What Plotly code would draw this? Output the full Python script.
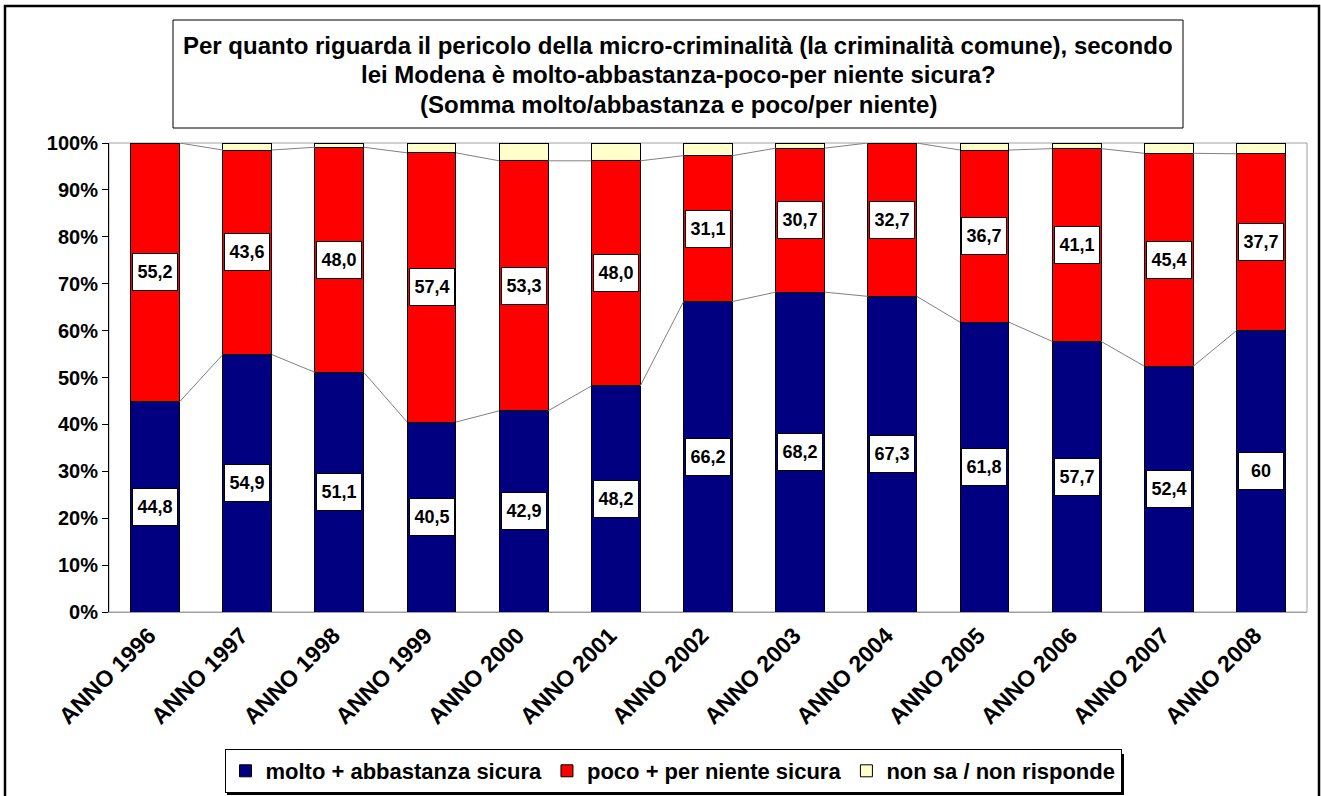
import plotly.graph_objects as go

categories = ["ANNO 1996", "ANNO 1997", "ANNO 1998", "ANNO 1999", "ANNO 2000", "ANNO 2001",
              "ANNO 2002", "ANNO 2003", "ANNO 2004", "ANNO 2005", "ANNO 2006", "ANNO 2007", "ANNO 2008"]
sicura = [44.8, 54.9, 51.1, 40.5, 42.9, 48.2, 66.2, 68.2, 67.3, 61.8, 57.7, 52.4, 60]
non_sicura = [55.2, 43.6, 48.0, 57.4, 53.3, 48.0, 31.1, 30.7, 32.7, 36.7, 41.1, 45.4, 37.7]
non_sa = [0.0, 1.5, 0.9, 2.1, 3.8, 3.8, 2.7, 1.1, 0.0, 1.5, 1.2, 2.2, 2.3]
series_names = ["molto + abbastanza sicura", "poco + per niente sicura", "non sa / non risponde"]
colors = ["#000080", "#FF0000", "#FFFFCC"]
title_lines = ["Per quanto riguarda il pericolo della micro-criminalità (la criminalità comune), secondo",
               "lei Modena è molto-abbastanza-poco-per niente sicura?",
               "(Somma molto/abbastanza e poco/per niente)"]

FONT = "Liberation Sans, Arial, sans-serif"
BW = 0.53
xs = list(range(len(categories)))

# plot area in screen pixels (page body margin removed by post_script)
L, R, T, B = 109, 1307, 143, 612
W, H = 1321, 796
pw, ph = R - L, B - T


def px_x(p):
    return (p - L) / pw


def px_y(p):
    return (B - p) / ph


fig = go.Figure()
for vals, name, col in zip([sicura, non_sicura, non_sa], series_names, colors):
    fig.add_trace(go.Bar(x=xs, y=vals, name=name, width=BW,
                         marker=dict(color=col, line=dict(color="black", width=1))))

# series lines between bars
cum1 = sicura
cum2 = [a + b for a, b in zip(sicura, non_sicura)]
for cum in (cum1, cum2):
    lx, ly = [], []
    for i in range(len(xs) - 1):
        lx += [xs[i] + BW / 2, xs[i + 1] - BW / 2, None]
        ly += [cum[i], cum[i + 1], None]
    fig.add_trace(go.Scatter(x=lx, y=ly, mode="lines", line=dict(color="#808080", width=1),
                             showlegend=False, hoverinfo="skip"))


def fmt(v):
    return str(v).replace(".", ",")


annotations = []
for i in xs:
    for y, v in ((sicura[i] / 2, sicura[i]), (sicura[i] + non_sicura[i] / 2, non_sicura[i])):
        annotations.append(dict(x=xs[i], y=y, xref="x", yref="y", text=fmt(v), showarrow=False,
                                font=dict(family=FONT, size=18, color="black", weight="bold"),
                                width=38, height=30, borderpad=3,
                                bgcolor="white", bordercolor="black", borderwidth=1))

title_y = [45, 75, 105]
for t, yy in zip(title_lines, title_y):
    annotations.append(dict(x=px_x(678), y=px_y(yy), xref="paper", yref="paper", text=t,
                            showarrow=False, xanchor="center", yanchor="middle",
                            font=dict(family=FONT, size=24, color="black", weight="bold")))

LEG_CX, LEG_CY = 673, 771
shapes = [
    # outer frame
    dict(type="rect", xref="paper", yref="paper", x0=px_x(5), x1=px_x(1319), y0=px_y(806), y1=px_y(6),
         line=dict(color="black", width=2.5), layer="below"),
    # title box
    dict(type="rect", xref="paper", yref="paper", x0=px_x(173), x1=px_x(1183), y0=px_y(128), y1=px_y(20),
         line=dict(color="black", width=1), layer="below"),
    # plot area border
    dict(type="rect", xref="paper", yref="paper", x0=0, x1=1, y0=0, y1=1,
         line=dict(color="#A0A0A0", width=1), layer="below"),
    # legend shadow
    dict(type="rect", xref="paper", yref="paper", x0=px_x(227), x1=px_x(1124),
         y0=px_y(LEG_CY + 24), y1=px_y(LEG_CY - 17),
         line=dict(width=0), fillcolor="black", layer="below"),
]

fig.update_layout(
    width=W, height=H, barmode="stack",
    margin=dict(l=L, r=W - R, t=T, b=H - B, autoexpand=False),
    plot_bgcolor="white", paper_bgcolor="white",
    font=dict(family=FONT, color="black"),
    xaxis=dict(range=[-0.5, len(xs) - 0.5], tickmode="array", tickvals=xs, ticktext=categories,
               tickangle=-45, tickfont=dict(family=FONT, size=23, weight="bold"), automargin=False,
               ticklabelshift=-6,
               showline=True, linecolor="#A0A0A0", linewidth=1, ticks="", showgrid=False, zeroline=False),
    yaxis=dict(range=[0, 100], dtick=10, ticksuffix="%", showgrid=False, zeroline=False, automargin=False,
               showline=True, linecolor="black", linewidth=1, ticks="outside", ticklen=6,
               tickcolor="black", tickfont=dict(family=FONT, size=20, weight="bold")),
    legend=dict(orientation="h", x=px_x(LEG_CX), y=px_y(LEG_CY), xanchor="center", yanchor="middle",
                bgcolor="white", bordercolor="black", borderwidth=1,
                font=dict(family=FONT, size=22, weight="bold"), itemwidth=30,
                traceorder="normal"),
    annotations=annotations, shapes=shapes, showlegend=True,
)

fig.write_html("out.html", config={"displayModeBar": False},
               post_script="document.body.style.margin='0';")
